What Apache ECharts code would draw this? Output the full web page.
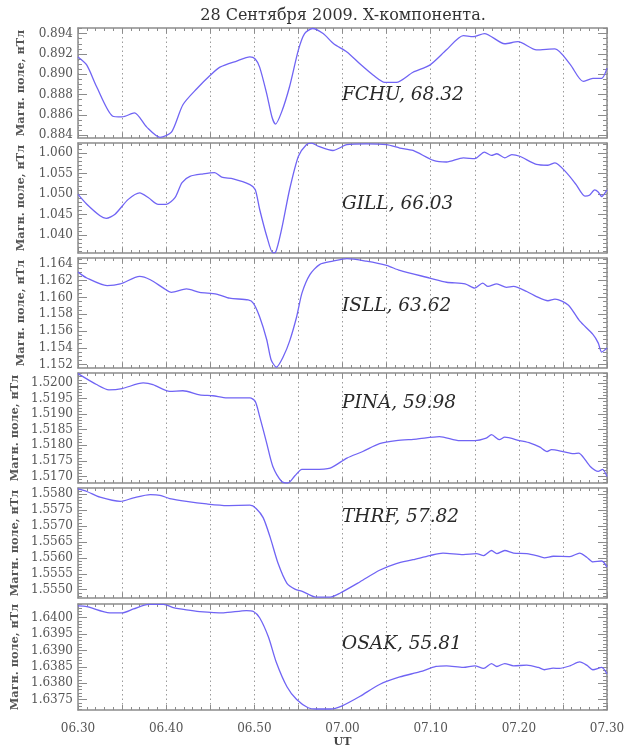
<!DOCTYPE html>
<html>
<head>
<meta charset="utf-8">
<script src="https://cdn.jsdelivr.net/npm/echarts@6/dist/echarts.min.js"></script>
<style>
  html, body { margin: 0; padding: 0; background: #fff; }
  #chart { width: 634px; height: 749px; }
</style>
</head>
<body>
<div id="chart"></div>
<script>
// X-component of the geomagnetic field, 28 Sept 2009, 06:30–07:30 UT.
// Time is in minutes after 06:30.
const chartTitle = '28 Сентября 2009. X-компонента.';
const yName = 'Магн. поле, нТл';
const stations = ['FCHU', 'GILL', 'ISLL', 'PINA', 'THRF', 'OSAK'];
const latitudes = ['68.32', '66.03', '63.62', '59.98', '57.82', '55.81'];
const timeTicks = ['06.30', '06.40', '06.50', '07.00', '07.10', '07.20', '07.30'];

const fchuT = [0,1,2.1,3.9,5,6.4,7.8,9.3,10.6,11.9,13.5,15,16.1,18,19.5,20.1,20.6,21.4,22,22.4,23.1,24,25,25.7,26.6,27.8,29,30.5,32,33.5,34.8,36.1,38,39.9,41.8,43.7,44.8,46.1,48.4,49.9,52,54.1,55.8,57.3,58.4,59.4,60];
const fchuV = [0.8917,0.8909,0.8888,0.8859,0.8858,0.8862,0.8848,0.8838,0.8843,0.8870,0.8886,0.8899,0.8907,0.8913,0.8917,0.8915,0.8907,0.8881,0.8858,0.8851,0.8863,0.8888,0.8924,0.8940,0.8945,0.8940,0.8930,0.8922,0.8910,0.8899,0.8892,0.8892,0.8902,0.8909,0.8924,0.8938,0.8937,0.8940,0.8930,0.8932,0.8924,0.8925,0.8910,0.8893,0.8896,0.8896,0.8906];

const gillT = [0,1,2.5,3.2,4.2,5.7,7,8,9.1,10,11,11.8,12.7,14.2,15.5,16.3,17.6,19.5,20.1,20.6,21.4,22.1,22.4,23.1,24,25,25.9,26.5,27.3,28.9,30.5,32.7,35,36.5,38,40.3,41.8,43.7,45,46.1,46.9,47.5,48.4,49.2,50.1,52,53.3,54.1,55.4,56.5,57.5,58,58.6,59,59.4,60];
const gillV = [1.0499,1.0475,1.0447,1.0441,1.0451,1.0487,1.0503,1.0491,1.0475,1.0475,1.0491,1.0528,1.0543,1.0549,1.0552,1.0541,1.0537,1.0523,1.0511,1.0463,1.0398,1.0357,1.0358,1.0415,1.0511,1.0592,1.0620,1.0624,1.0616,1.0606,1.0620,1.0622,1.0620,1.0612,1.0606,1.0582,1.0578,1.0588,1.0586,1.0602,1.0594,1.0598,1.0588,1.0596,1.0592,1.0572,1.0570,1.0576,1.0552,1.0523,1.0495,1.0497,1.0510,1.0505,1.0494,1.0510];

const isllT = [0,1,3.3,4.8,7,8.2,9.7,10.6,12.3,13.8,15.7,17.2,19.3,19.9,20.6,21.4,21.9,22.5,23.3,24.0,24.8,25.4,26.3,27.4,28.9,30.5,32.7,35,36.5,39.9,41.8,43.9,45,45.9,46.5,47.5,48.6,49.4,50.9,52,53.3,54.1,55.6,56.9,58.4,59,59.4,60];
const isllV = [1.1630,1.1623,1.1614,1.1616,1.1625,1.1621,1.1611,1.1606,1.1610,1.1606,1.1604,1.1599,1.1597,1.1593,1.1577,1.1550,1.1526,1.1517,1.1530,1.1548,1.1577,1.1605,1.1627,1.1639,1.1643,1.1646,1.1643,1.1638,1.1632,1.1623,1.1618,1.1616,1.1611,1.1617,1.1613,1.1616,1.1612,1.1613,1.1607,1.1601,1.1596,1.1598,1.1591,1.1572,1.1556,1.1546,1.1535,1.1540];

const pinaT = [0,2.1,3.5,5,7.4,8.5,10.4,11.9,13.8,15.3,16.9,19.5,20.1,20.6,21.4,22.1,23.1,23.8,24.6,25.4,26.7,28.6,30.5,32.3,34.2,36.1,38.4,41,43.3,45,46.3,46.9,47.8,48.4,50.1,51.3,52.4,53.2,53.7,55,56.2,56.8,57.3,58.1,59,59.5,60];
const pinaV = [1.5203,1.51995,1.51978,1.51982,1.5200,1.51995,1.51973,1.51975,1.51962,1.51959,1.51952,1.51952,1.51941,1.51893,1.51807,1.51732,1.51684,1.51679,1.51702,1.51723,1.51723,1.51727,1.51759,1.5178,1.51805,1.51815,1.5182,1.51828,1.51815,1.51815,1.51823,1.51834,1.51818,1.51826,1.51815,1.51807,1.51794,1.5178,1.51786,1.5178,1.51773,1.51775,1.51762,1.51732,1.51716,1.51723,1.5170];

const thrfT = [0,1,2.5,4.8,6.3,8.2,9.3,10.4,12.3,14.6,16.9,19.5,20.2,21,21.8,22.7,23.7,24.6,25.5,27,28.6,29.7,32,34.2,36.1,38,39.9,41.4,43.7,45.2,46,46.9,47.5,48.4,49.4,50.9,52,52.9,53.9,55.8,56.9,57.7,58.4,59.4,60];
const thrfV = [1.55816,1.55808,1.5579,1.55777,1.55788,1.55798,1.55796,1.55786,1.55777,1.55769,1.55764,1.55765,1.55755,1.55726,1.55664,1.55582,1.5552,1.55502,1.55494,1.55477,1.55477,1.55489,1.55525,1.55561,1.55582,1.55594,1.55607,1.55615,1.5561,1.55613,1.55607,1.55623,1.55613,1.55623,1.55615,1.55613,1.55607,1.556,1.55605,1.55604,1.55615,1.55602,1.55587,1.5559,1.55571];

const osakT = [0,1,3.6,5,6.3,8,9.7,10.8,12.3,13.8,16.5,19.1,19.9,20.6,21.6,22.5,23.7,24.8,26.1,27,28.6,29.9,32,34.2,36.5,38.8,40.6,41.8,43.7,45,46,46.9,47.5,48.4,49.4,50.9,52.2,52.9,53.9,54.6,55.8,56.9,57.7,58.4,59.4,60];
const osakV = [1.64036,1.64034,1.64015,1.64015,1.64027,1.64041,1.64041,1.64031,1.64024,1.64019,1.64015,1.64022,1.64019,1.6400,1.63941,1.63863,1.63789,1.6375,1.63725,1.63721,1.63721,1.6373,1.6376,1.63796,1.63819,1.63835,1.63851,1.63853,1.63848,1.63853,1.63845,1.6386,1.63851,1.6386,1.63853,1.63855,1.63848,1.63841,1.63846,1.63845,1.63853,1.63865,1.63855,1.63841,1.63848,1.63828];

// Y ranges and labelled ticks for each panel
const yMins = [0.88373, 1.03565, 1.15161, 1.51679, 1.55474, 1.63718];
const yMaxs = [0.89455, 1.06242, 1.16468, 1.52032, 1.55819, 1.64042];
const fchuTicks = [0.884, 0.886, 0.888, 0.890, 0.892, 0.894];
const gillTicks = [1.040, 1.045, 1.050, 1.055, 1.060];
const isllTicks = [1.152, 1.154, 1.156, 1.158, 1.160, 1.162, 1.164];
const pinaTicks = [1.5170, 1.5175, 1.5180, 1.5185, 1.5190, 1.5195, 1.5200];
const thrfTicks = [1.5550, 1.5555, 1.5560, 1.5565, 1.5570, 1.5575, 1.5580];
const osakTicks = [1.6375, 1.6380, 1.6385, 1.6390, 1.6395, 1.6400];
const minorSplits = [4, 5, 4, 5, 5, 5];
const labelDigits = [3, 3, 3, 4, 4, 4];

const seriesT = [fchuT, gillT, isllT, pinaT, thrfT, osakT];
const seriesV = [fchuV, gillV, isllV, pinaV, thrfV, osakV];
const majorTicks = [fchuTicks, gillTicks, isllTicks, pinaTicks, thrfTicks, osakTicks];

// layout
const gridTops = [28, 143, 258, 373, 488, 604];
const gridH = 110;
const gridLeft = 78, gridRight = 27;
const labelCenters = [98, 207, 309, 406, 520, 647];

const serif = 'DejaVu Serif';
const frameColor = '#8c8c8c';
const lineColor = '#7064f4';

function minorValues(i) {
  const t = majorTicks[i];
  const step = (t[1] - t[0]) / minorSplits[i];
  const out = [];
  const start = t[0] - step * Math.ceil((t[0] - yMins[i]) / step);
  for (let v = start; v <= yMaxs[i] + 1e-12; v += step) {
    if (v >= yMins[i] - 1e-12) out.push(+v.toFixed(7));
  }
  return out;
}

const grid = [], xAxis = [], yAxis = [], series = [], graphic = [];
stations.forEach((name, i) => {
  grid.push({ left: gridLeft, right: gridRight, top: gridTops[i], height: gridH, show: false });

  const isLast = i === stations.length - 1;
  const xBase = {
    type: 'value', gridIndex: i, min: 0, max: 60, interval: 5,
    axisLine: { show: true, lineStyle: { color: frameColor, width: 1.5 } },
    axisTick: { show: true, inside: true, length: 5, lineStyle: { color: frameColor } },
    minorTick: { show: true, splitNumber: 5, length: 3, lineStyle: { color: frameColor } }
  };
  xAxis.push(Object.assign({}, xBase, {
    position: 'bottom',
    splitLine: { show: true, lineStyle: { type: [1.5, 3], color: '#9a9a9a', width: 1 } },
    axisLabel: {
      show: isLast, margin: 13, fontFamily: serif, fontSize: 12, color: '#555',
      formatter: v => (v % 10 === 0 ? timeTicks[v / 10] : '')
    },
    name: isLast ? 'UT' : '', nameLocation: 'middle', nameGap: 27,
    nameTextStyle: { fontFamily: serif, fontSize: 11, fontWeight: 'bold', color: '#444' }
  }));
  xAxis.push(Object.assign({}, xBase, {
    position: 'top', splitLine: { show: false }, axisLabel: { show: false }
  }));

  const mins = minorValues(i);
  const yBase = { type: 'value', gridIndex: i, min: yMins[i], max: yMaxs[i], splitLine: { show: false }, scale: true };
  const digits = labelDigits[i];
  yAxis.push(Object.assign({}, yBase, {
    position: 'left',
    axisLine: { show: true, lineStyle: { color: frameColor, width: 1.5 } },
    axisTick: { show: true, inside: true, length: 9, customValues: majorTicks[i], lineStyle: { color: frameColor } },
    axisLabel: { show: true, customValues: majorTicks[i], margin: 5, fontFamily: serif, fontSize: 12, color: '#555',
      formatter: v => (+v).toFixed(digits) },
    name: yName, nameLocation: 'middle', nameGap: 51, nameRotate: 90,
    nameTextStyle: { fontFamily: serif, fontSize: 11.3, fontWeight: 'bold', color: '#555' }
  }));
  yAxis.push(Object.assign({}, yBase, {
    position: 'left', axisLine: { show: false },
    axisTick: { show: true, inside: true, length: 4, customValues: mins, lineStyle: { color: frameColor } },
    axisLabel: { show: false }
  }));
  yAxis.push(Object.assign({}, yBase, {
    position: 'right',
    axisLine: { show: true, lineStyle: { color: frameColor, width: 1.5 } },
    axisTick: { show: true, inside: true, length: 9, customValues: majorTicks[i], lineStyle: { color: frameColor } },
    axisLabel: { show: false }
  }));
  yAxis.push(Object.assign({}, yBase, {
    position: 'right', axisLine: { show: false },
    axisTick: { show: true, inside: true, length: 4, customValues: mins, lineStyle: { color: frameColor } },
    axisLabel: { show: false }
  }));

  series.push({
    type: 'line', name: name, xAxisIndex: 2 * i, yAxisIndex: 4 * i,
    data: seriesT[i].map((t, k) => [t, seriesV[i][k]]),
    showSymbol: false, smooth: 0.25, clip: true,
    lineStyle: { color: lineColor, width: 1.3 }
  });

  graphic.push({
    type: 'text', left: 342, top: labelCenters[i] - 12,
    style: { text: name + ', ' + latitudes[i], font: 'italic 18.5px "DejaVu Serif"', fill: '#2a2a2a' }
  });
});

const chart = echarts.init(document.getElementById('chart'), null, { renderer: 'canvas' });
chart.setOption({
  animation: false,
  backgroundColor: '#fff',
  title: {
    text: chartTitle, left: 338, top: 3, textAlign: 'center',
    textStyle: { fontFamily: serif, fontSize: 16, fontWeight: 'normal', color: '#333' }
  },
  grid, xAxis, yAxis, series, graphic
});
</script>
</body>
</html>
